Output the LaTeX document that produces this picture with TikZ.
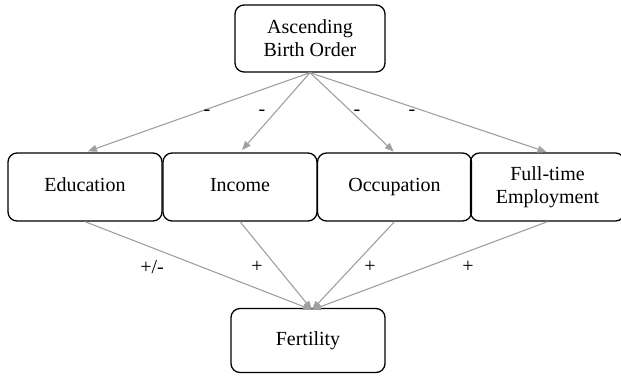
\documentclass[tikz,border=0pt]{standalone}
\usepackage{fontspec}
\setmainfont{Liberation Serif}
\usetikzlibrary{arrows.meta}
\definecolor{arrowgray}{HTML}{A0A0A0}
\tikzset{
  box/.style={draw=black, line width=1.3pt, rounded corners=9pt, minimum width=154pt, align=center, font=\fontsize{20}{23}\selectfont, inner sep=2pt},
  conn/.style={draw=arrowgray, line width=1.1pt, -{Triangle[length=9pt,width=7pt]}},
  lbl/.style={font=\fontsize{20}{23}\selectfont, inner sep=0pt}
}
\begin{document}
\begin{tikzpicture}[x=1pt,y=-1pt]
\useasboundingbox (0,0) rectangle (621,376);
\node[box, minimum width=150pt, minimum height=67pt] (top) at (310,38.5) {Ascending\\Birth Order};
\node[box, minimum height=68pt] (edu) at (85,187) {\strut Education};
\node[box, minimum height=68pt] (inc) at (240,187) {\strut Income};
\node[box, minimum height=68pt] (occ) at (394.5,187) {\strut Occupation};
\node[box, minimum height=68pt] (ful) at (547.5,187) {Full-time\\Employment};
\node[box, minimum height=64pt] (fer) at (308,340.5) {\strut Fertility};

\draw[conn, shorten >=3pt] (top.south) -- (edu.north);
\draw[conn, shorten >=3pt] (top.south) -- (inc.north);
\draw[conn, shorten >=1pt] (top.south) -- (occ.north);
\draw[conn, shorten >=1pt] (top.south) -- (ful.north);

\draw[conn] (edu.south) -- ([xshift=4pt,yshift=-2pt]fer.north);
\draw[conn] (inc.south) -- ([xshift=4pt,yshift=-2pt]fer.north);
\draw[conn] (occ.south) -- ([xshift=4pt,yshift=-2pt]fer.north);
\draw[conn] (ful.south) -- ([xshift=4pt,yshift=-2pt]fer.north);

\node[lbl] (m1) at (207,113) {-};
\node[lbl] (m2) at (262,113) {-};
\node[lbl] (m3) at (357,113) {-};
\node[lbl] (m4) at (412,113) {-};
\node[lbl] (p1) at (152,267) {+/-};
\node[lbl] (p2) at (257,267) {+};
\node[lbl] (p3) at (370,267) {+};
\node[lbl] (p4) at (468,267) {+};
\end{tikzpicture}
\end{document}
